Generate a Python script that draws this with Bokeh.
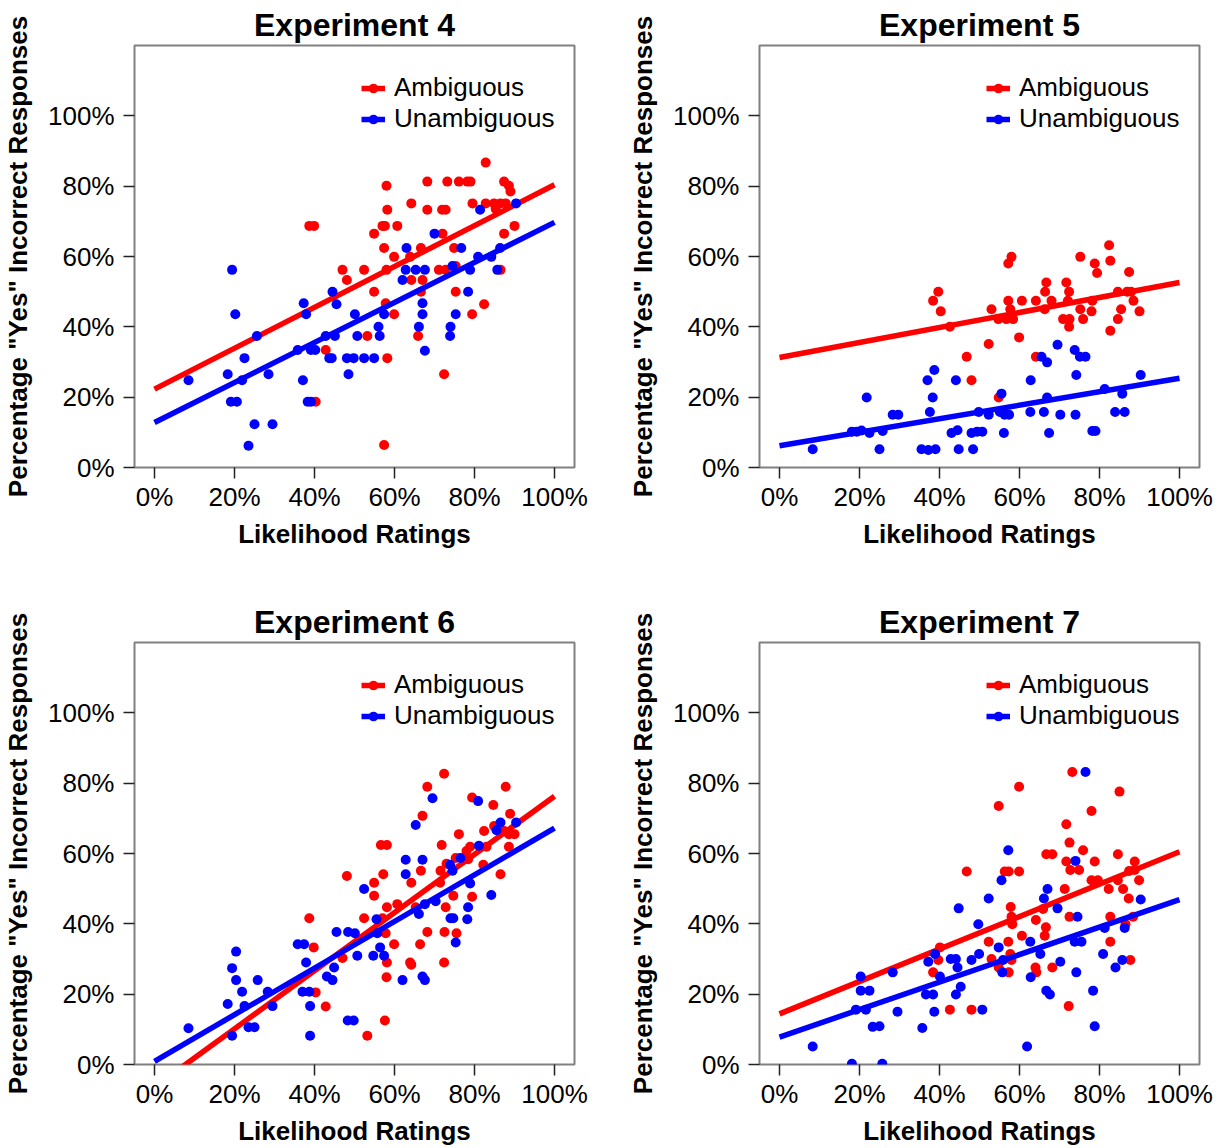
from bokeh.plotting import figure
from bokeh.layouts import gridplot
from bokeh.models import Range1d, FixedTicker, Legend, LegendItem
from bokeh.embed import file_html
from bokeh.resources import INLINE

FONT = "Liberation Sans"
RED = "#ff0000"
BLUE = "#0000ff"

titles = ["Experiment 4", "Experiment 5", "Experiment 6", "Experiment 7"]
x_label = "Likelihood Ratings"
y_label = 'Percentage "Yes" Incorrect Responses'
series_names = ["Ambiguous", "Unambiguous"]
ticks = [0, 20, 40, 60, 80, 100]
tick_labels = ["0%", "20%", "40%", "60%", "80%", "100%"]
fit_x = [0, 100]

# ---------------- Experiment 4 ----------------
e4_amb_x = [82.8, 68.2, 73.2, 76.1, 78.2, 79.0, 58.0, 87.4, 88.6, 89.0, 64.2, 79.5, 82.8, 84.9, 86.5,
            87.8, 85.3, 58.2, 68.2, 71.9, 72.8, 38.7, 39.9, 57.0, 57.6, 60.7, 87.4, 90.0, 54.9, 72.0,
            57.4, 66.6, 74.9, 59.9, 63.9, 47.0, 52.4, 58.0, 71.1, 72.8, 75.3, 86.5, 48.1, 64.2, 67.0,
            54.9, 66.6, 75.3, 57.8, 82.4, 59.9, 79.4, 53.2, 65.9, 42.8, 58.2, 72.4, 40.3, 57.4]
e4_amb_y = [86.7, 81.3, 81.3, 81.3, 81.3, 81.3, 80.1, 81.3, 80.1, 78.5, 75.1, 75.1, 75.1, 75.1, 75.1,
            75.1, 73.5, 73.3, 73.3, 73.3, 73.3, 68.7, 68.7, 68.7, 68.7, 68.7, 66.5, 68.7, 66.5, 66.5,
            62.4, 62.4, 62.4, 59.9, 59.9, 56.2, 56.2, 56.2, 56.2, 56.2, 57.3, 56.2, 53.3, 53.3, 53.3,
            50.0, 50.0, 50.0, 46.7, 46.4, 43.6, 43.6, 37.4, 37.4, 33.4, 31.1, 26.5, 18.7, 6.4]
e4_unamb_x = [90.4, 81.4, 70.0, 63.0, 76.7, 86.4, 80.9, 84.2, 62.8, 65.3, 67.6, 74.5, 78.9, 85.7, 62.0,
              19.4, 44.5, 78.4, 37.3, 45.5, 20.2, 37.9, 50.1, 57.4, 67.0, 67.0, 75.3, 56.0, 66.1, 74.0,
              25.6, 42.8, 45.1, 50.7, 56.3, 73.9, 35.8, 39.1, 40.2, 67.6, 22.5, 43.7, 44.3, 48.1, 49.8,
              52.4, 54.9, 18.3, 28.5, 48.5, 8.5, 21.9, 37.1, 19.1, 20.6, 38.3, 39.1, 25.0, 29.5, 23.5]
e4_unamb_y = [75.1, 73.3, 66.5, 62.4, 62.4, 62.4, 59.9, 59.9, 56.2, 56.2, 56.2, 57.3, 56.2, 56.2, 53.3,
              56.2, 50.0, 50.0, 46.7, 46.4, 43.6, 43.6, 43.6, 43.6, 46.7, 43.6, 43.6, 40.0, 40.0, 40.0,
              37.4, 37.4, 37.4, 37.4, 37.4, 37.4, 33.4, 33.4, 33.4, 33.2, 31.1, 31.1, 31.1, 31.1, 31.1,
              31.1, 31.1, 26.5, 26.5, 26.5, 24.8, 24.8, 24.8, 18.7, 18.7, 18.7, 18.7, 12.3, 12.3, 6.2]
e4_amb_fit = [22.3, 80.4]
e4_unamb_fit = [12.8, 69.7]

# ---------------- Experiment 5 ----------------
e5_amb_x = [82.4, 58.0, 57.2, 75.2, 78.8, 82.7, 79.4, 87.4, 39.7, 38.4, 40.3, 66.7, 71.7, 66.4, 72.4,
            57.2, 60.6, 64.1, 68.0, 72.1, 78.2, 84.6, 86.9, 87.9, 88.5, 53.0, 57.7, 66.3, 75.2, 78.0,
            85.4, 90.0, 42.6, 54.7, 56.7, 58.4, 70.9, 72.5, 75.9, 72.4, 84.6, 82.7, 59.9, 52.3, 46.8,
            64.1, 48.0, 54.8]
e5_amb_y = [63.2, 59.9, 58.0, 59.9, 58.0, 58.8, 55.3, 55.6, 50.0, 47.4, 44.4, 52.6, 52.6, 50.0, 50.0,
            47.4, 47.4, 47.4, 47.4, 47.4, 47.4, 50.0, 50.0, 50.0, 47.4, 45.0, 45.0, 45.0, 45.0, 44.4,
            45.0, 44.4, 40.0, 42.2, 42.2, 42.2, 42.2, 42.2, 42.2, 40.0, 42.2, 38.9, 37.0, 35.1, 31.5,
            31.5, 24.8, 19.9]
e5_unamb_x = [69.5, 73.8, 75.1, 76.5, 65.5, 66.9, 74.2, 90.3, 38.7, 37.0, 44.1, 62.8, 21.8, 38.3, 55.5,
              66.9, 81.3, 85.7, 28.3, 29.7, 37.6, 49.8, 52.3, 55.1, 56.3, 57.4, 62.7, 66.1, 70.2, 74.0,
              83.9, 86.3, 18.1, 19.3, 20.5, 22.5, 25.8, 43.0, 44.5, 48.0, 49.4, 50.7, 56.1, 67.4, 78.2,
              79.0, 8.3, 25.0, 35.5, 37.2, 39.0, 44.8, 48.4]
e5_unamb_y = [34.9, 33.4, 31.5, 31.5, 31.5, 29.9, 26.3, 26.3, 27.7, 24.8, 24.8, 24.8, 19.9, 19.9, 21.0,
              19.9, 22.3, 21.0, 15.0, 15.0, 15.8, 15.8, 15.0, 15.8, 15.0, 15.0, 15.8, 15.8, 15.0, 15.0,
              15.8, 15.8, 10.2, 10.2, 10.5, 9.8, 10.4, 9.8, 10.6, 9.8, 10.2, 10.2, 9.8, 9.8, 10.4,
              10.4, 5.2, 5.2, 5.2, 5.0, 5.2, 5.2, 5.2]
e5_amb_fit = [31.3, 52.6]
e5_unamb_fit = [6.2, 25.4]

# ---------------- Experiment 6 ----------------
e6_amb_x = [72.4, 68.2, 87.8, 79.4, 84.7, 67.0, 88.9, 84.9, 82.4, 87.4, 88.6, 90.0, 76.1, 56.6, 58.1,
            71.8, 78.9, 83.0, 88.6, 78.0, 75.3, 73.0, 78.4, 82.2, 48.1, 57.2, 66.6, 71.5, 54.9, 64.2,
            71.4, 86.5, 54.9, 74.7, 79.4, 60.7, 58.1, 72.8, 65.3, 38.7, 52.4, 57.0, 57.8, 68.2, 72.5,
            75.5, 39.8, 59.9, 66.4, 47.0, 58.1, 63.9, 64.2, 72.4, 58.0, 40.3, 42.8, 57.6, 53.2]
e6_amb_y = [82.7, 79.0, 79.0, 75.9, 73.8, 70.7, 71.3, 67.8, 66.4, 66.4, 65.5, 65.5, 65.5, 62.4, 62.4,
            62.4, 61.9, 61.9, 61.9, 60.7, 58.7, 57.1, 58.4, 56.8, 53.6, 54.1, 55.1, 55.1, 51.7, 51.7,
            51.7, 54.1, 48.0, 48.0, 47.7, 45.6, 44.7, 44.7, 44.7, 41.6, 41.6, 41.6, 37.3, 37.7, 37.7,
            37.3, 33.3, 34.2, 34.2, 30.3, 29.0, 29.0, 28.4, 29.0, 24.8, 20.5, 16.5, 12.5, 8.2]
e6_unamb_x = [69.5, 80.9, 86.5, 90.4, 85.5, 65.3, 81.1, 62.8, 67.0, 62.8, 73.9, 74.5, 76.5, 52.4, 78.9,
              84.2, 67.6, 70.3, 66.1, 78.4, 74.0, 74.7, 78.2, 55.5, 55.7, 45.5, 48.4, 50.1, 75.3, 35.8,
              37.4, 56.4, 20.4, 54.7, 57.4, 50.7, 37.9, 19.4, 44.9, 20.4, 25.8, 43.1, 44.5, 62.0, 67.0,
              67.6, 21.9, 28.3, 37.0, 38.7, 18.3, 22.5, 29.5, 38.9, 23.5, 25.0, 8.5, 48.3, 49.8, 19.4,
              38.9]
e6_unamb_y = [75.7, 74.9, 68.8, 68.8, 66.6, 68.1, 62.2, 58.2, 58.2, 54.1, 56.8, 55.1, 58.7, 49.9, 51.5,
              48.2, 45.6, 46.4, 42.8, 44.7, 41.6, 41.6, 41.3, 41.3, 37.3, 37.7, 37.7, 37.3, 34.7, 34.2,
              34.2, 33.3, 32.1, 30.9, 30.9, 30.9, 29.0, 27.4, 27.6, 24.0, 24.0, 25.0, 24.0, 24.0, 25.0,
              24.0, 20.7, 20.7, 20.7, 20.7, 17.2, 16.6, 16.6, 16.6, 10.6, 10.6, 10.3, 12.5, 12.5, 8.2,
              8.2]
e6_amb_fit = [-6.4, 76.3]
e6_unamb_fit = [0.9, 67.2]

# ---------------- Experiment 7 ----------------
e7_amb_x = [73.2, 59.9, 85.0, 54.8, 78.0, 71.7, 72.5, 75.9, 66.7, 68.2, 84.6, 71.7, 78.8, 88.8, 46.8,
            56.3, 57.3, 59.9, 72.7, 74.9, 87.4, 88.8, 78.0, 79.6, 84.6, 89.9, 71.3, 82.3, 85.9, 87.3,
            57.8, 65.9, 58.0, 72.5, 82.7, 88.4, 64.1, 58.2, 86.5, 66.6, 66.3, 60.6, 40.1, 52.3, 57.2,
            57.7, 82.7, 39.7, 53.0, 58.0, 87.7, 54.8, 64.0, 68.2, 38.4, 57.3, 64.2, 42.6, 48.0, 72.3]
e7_amb_y = [83.2, 79.0, 77.6, 73.5, 72.1, 68.3, 63.1, 60.9, 59.8, 59.8, 59.8, 57.7, 57.7, 57.7, 54.9,
            54.9, 54.9, 54.9, 55.3, 55.3, 55.0, 55.3, 52.4, 52.4, 52.4, 52.4, 49.9, 49.9, 49.9, 47.2,
            44.8, 44.2, 42.0, 42.0, 42.0, 42.0, 41.1, 39.9, 39.9, 39.0, 36.6, 36.6, 33.3, 34.9, 34.9,
            31.4, 34.9, 29.7, 30.0, 29.7, 29.7, 27.6, 27.6, 27.6, 26.2, 26.2, 26.2, 15.6, 15.6, 16.6]
e7_unamb_x = [76.5, 57.2, 74.0, 55.5, 67.0, 66.1, 52.3, 90.3, 44.8, 69.5, 74.5, 49.7, 81.3, 86.3, 62.7,
              73.8, 75.5, 54.8, 38.9, 49.9, 65.2, 80.9, 37.2, 42.8, 44.1, 48.0, 55.9, 70.2, 85.7, 44.5,
              84.0, 55.7, 74.2, 20.3, 28.3, 40.1, 62.8, 20.3, 22.5, 45.3, 36.6, 38.4, 44.1, 66.7, 67.6,
              78.4, 19.1, 21.6, 29.5, 38.7, 50.7, 23.3, 25.0, 35.7, 78.8, 8.3, 61.9, 18.1, 25.7]
e7_unamb_y = [83.2, 60.9, 57.9, 52.4, 49.9, 47.2, 47.2, 46.9, 44.4, 44.4, 42.0, 39.9, 38.8, 38.8, 34.9,
              34.9, 34.9, 33.3, 31.4, 31.4, 31.4, 31.4, 29.2, 30.0, 30.0, 29.7, 29.7, 29.2, 29.7, 27.6,
              27.6, 26.2, 26.2, 25.0, 26.2, 25.0, 24.8, 21.0, 21.0, 22.1, 19.9, 19.9, 19.9, 21.0, 19.9,
              21.0, 15.6, 15.6, 15.0, 15.0, 15.6, 10.7, 10.9, 10.4, 10.9, 5.1, 5.1, 0.2, 0.2]
e7_amb_fit = [14.4, 60.5]
e7_unamb_fit = [7.8, 46.9]


def make_panel(title, amb_x, amb_y, un_x, un_y, amb_fit, un_fit, width, height, top):
    left = 133
    frame_w = 441
    frame_h = 422
    p = figure(width=width, height=height, title=title,
               x_range=Range1d(-5, 105), y_range=Range1d(0, 120),
               output_backend="svg", toolbar_location=None,
               min_border_left=left, min_border_right=width - left - frame_w,
               min_border_top=top, min_border_bottom=height - top - frame_h)
    p.background_fill_color = "white"
    p.border_fill_color = "white"
    p.outline_line_color = "#808080"
    p.outline_line_width = 2
    p.xgrid.visible = False
    p.ygrid.visible = False

    p.title.text_font = FONT
    p.title.text_font_size = "32px"
    p.title.text_font_style = "bold"
    p.title.text_color = "black"
    p.title.align = "center"
    p.title.standoff = 5
    p.title.offset = 0

    for ax in (p.xaxis[0], p.yaxis[0]):
        ax.ticker = FixedTicker(ticks=ticks)
        ax.major_label_overrides = dict(zip(ticks, tick_labels))
        ax.axis_line_color = None
        ax.minor_tick_line_color = None
        ax.major_tick_in = 0
        ax.major_tick_out = 11
        ax.major_tick_line_color = "#222222"
        ax.major_tick_line_width = 1.5
        ax.major_label_text_font = FONT
        ax.major_label_text_font_size = "26px"
        ax.major_label_text_color = "black"
        ax.axis_label_text_font = FONT
        ax.axis_label_text_font_size = "26px"
        ax.axis_label_text_font_style = "bold"
        ax.axis_label_text_color = "black"
    p.xaxis.axis_label = x_label
    p.yaxis.axis_label = y_label
    p.xaxis.major_label_standoff = 3
    p.yaxis.major_label_standoff = 9
    p.xaxis.axis_label_standoff = 4
    p.yaxis.axis_label_standoff = 12

    ra_pts = p.scatter(amb_x, amb_y, size=10, color=RED, line_color=None)
    ra_line = p.line(fit_x, amb_fit, line_color=RED, line_width=5.5)
    ru_pts = p.scatter(un_x, un_y, size=10, color=BLUE, line_color=None)
    ru_line = p.line(fit_x, un_fit, line_color=BLUE, line_width=5.5)

    legend = Legend(items=[LegendItem(label=series_names[0], renderers=[ra_line, ra_pts]),
                           LegendItem(label=series_names[1], renderers=[ru_line, ru_pts])],
                    location=(227, 333), margin=0, padding=0, spacing=0,
                    glyph_width=24, glyph_height=30, label_height=30, label_standoff=9,
                    label_text_font=FONT, label_text_font_size="26px", label_text_color="black",
                    border_line_color=None, background_fill_color="white",
                    background_fill_alpha=1.0)
    p.add_layout(legend)
    return p


p1 = make_panel(titles[0], e4_amb_x, e4_amb_y, e4_unamb_x, e4_unamb_y, e4_amb_fit, e4_unamb_fit, 625, 597, 45)
p2 = make_panel(titles[1], e5_amb_x, e5_amb_y, e5_unamb_x, e5_unamb_y, e5_amb_fit, e5_unamb_fit, 600, 597, 45)
p3 = make_panel(titles[2], e6_amb_x, e6_amb_y, e6_unamb_x, e6_unamb_y, e6_amb_fit, e6_unamb_fit, 625, 551, 45)
p4 = make_panel(titles[3], e7_amb_x, e7_amb_y, e7_unamb_x, e7_unamb_y, e7_amb_fit, e7_unamb_fit, 600, 551, 45)

grid = gridplot([[p1, p2], [p3, p4]], toolbar_location=None)

open("out.html", "w").write(file_html(grid, INLINE))
